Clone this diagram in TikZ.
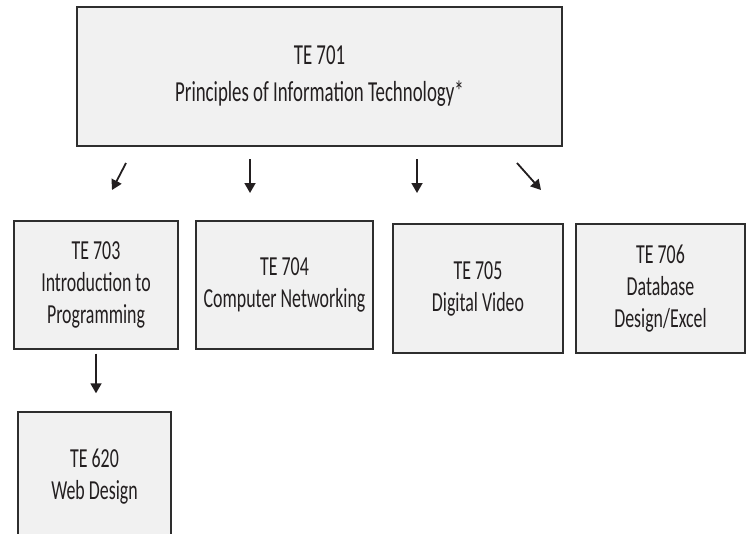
\documentclass[tikz,border=0pt]{standalone}
\usepackage{fontspec}
\setmainfont{Carlito}[FakeStretch=0.65]
\usetikzlibrary{arrows.meta}

\definecolor{boxfill}{HTML}{F1F1F1}
\definecolor{boxline}{HTML}{2E2E2E}
\definecolor{inkgray}{HTML}{231F20}

\tikzset{
    course/.style={draw=boxline, fill=boxfill, line width=1.4pt, align=center,
        text=inkgray, inner sep=0pt, font=\fontsize{27.5}{32}\selectfont},
    headcourse/.style={course, font=\fontsize{29}{37}\selectfont},
    arr/.style={draw=inkgray, line width=1.8pt, -{Triangle[width=11pt,length=10pt]}}
}

\begin{document}
\begin{tikzpicture}[x=1pt, y=-1pt]
    \useasboundingbox (0,0) rectangle (746,533);

    \node[headcourse, minimum width=485pt, minimum height=139pt] (T701) at (319.5,76.5)
        {TE 701\\Principles of Information Technology*};

    \node[course, minimum width=164pt, minimum height=128pt] (T703) at (96,285)
        {TE 703\\Introduction to\\Programming};
    \node[course, minimum width=177pt, minimum height=128pt] (T704) at (284.5,285)
        {TE 704\\Computer Networking};
    \node[course, minimum width=170pt, minimum height=129pt] (T705) at (478,288.5)
        {TE 705\\Digital Video};
    \node[course, minimum width=169pt, minimum height=129pt] (T706) at (660.5,288.5)
        {TE 706\\Database\\Design/Excel};
    \node[course, minimum width=153pt, minimum height=130pt] (T620) at (94.5,477)
        {TE 620\\Web Design};

    % free arrows under the top box
    \coordinate (A1) at (126,163);
    \coordinate (B1) at (112,190);
    \coordinate (A2) at (250,159);
    \coordinate (B2) at (250,193);
    \coordinate (A3) at (417,159);
    \coordinate (B3) at (417,193);
    \coordinate (A4) at (517,163);
    \coordinate (B4) at (541,190);

    \foreach \n in {1,2,3,4}
        \draw[arr] (A\n) -- (B\n);

    \draw[arr, shorten <=4pt, shorten >=18pt] (T703.south) -- (T703.south |- T620.north);
\end{tikzpicture}
\end{document}
